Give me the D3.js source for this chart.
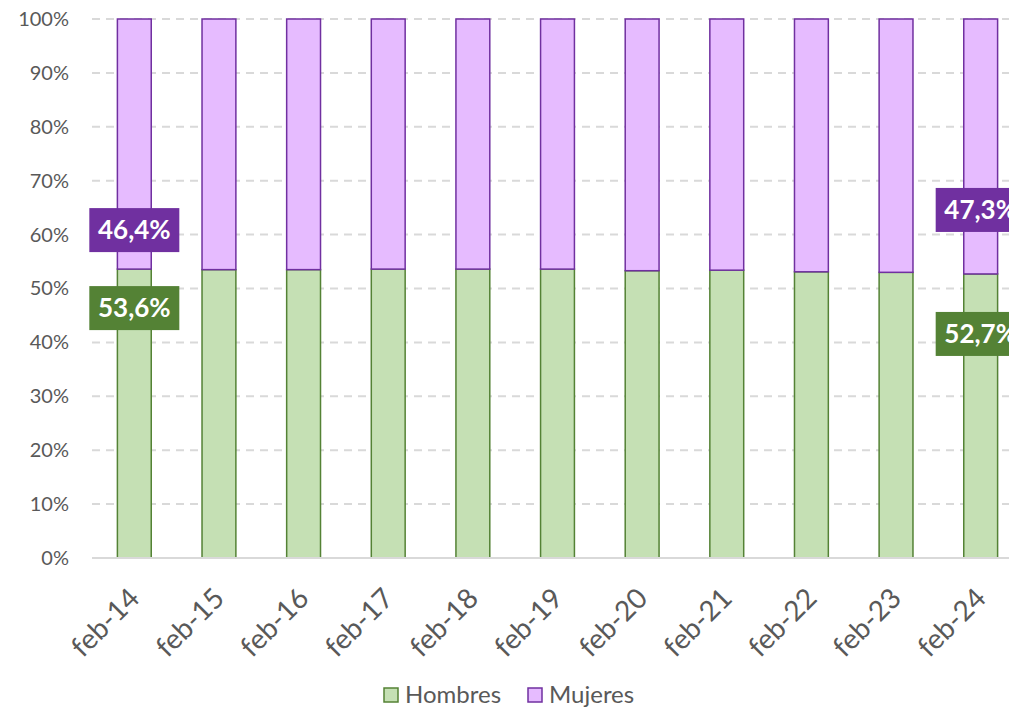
<!DOCTYPE html>
<html>
<head>
<meta charset="utf-8">
<script src="https://cdn.jsdelivr.net/npm/d3@7"></script>
<style>
  body { margin: 0; background: #fff; }
  svg { display: block; font-family: Lato, "Open Sans", sans-serif; }
</style>
</head>
<body>
<div id="chart"></div>
<script>
// data
const months = ["feb-14", "feb-15", "feb-16", "feb-17", "feb-18", "feb-19", "feb-20", "feb-21", "feb-22", "feb-23", "feb-24"]
const hombres = [53.6, 53.5, 53.5, 53.6, 53.6, 53.6, 53.3, 53.4, 53.1, 53.0, 52.7]
const mujeres = [46.4, 46.5, 46.5, 46.4, 46.4, 46.4, 46.7, 46.6, 46.9, 47.0, 47.3]
const yTicks = [0, 10, 20, 30, 40, 50, 60, 70, 80, 90, 100]
const labelled = ["feb-14", "feb-24"]

const width = 1009, height = 708
const top_y = 19, bottom_y = 558, left_x = 92, right_x = 1023

const green = "#C5E0B4", greenDark = "#548235"
const purple = "#E6BBFF", purpleDark = "#7030A0"

// label offsets (px from the segment boundary), first / last bar
const labelOffset = { "feb-14": [-39, 39], "feb-24": [-64, 60] }

const svg = d3.select("#chart").append("svg")
    .attr("width", width)
    .attr("height", height)

const xScale = d3.scaleBand()
    .domain(months)
    .range([left_x, right_x])
    .paddingInner(0.6)
    .paddingOuter(0.3)

const yScale = d3.scaleLinear()
    .domain([0, 100])
    .range([bottom_y, top_y])

/* gridlines */
svg.append("g")
    .selectAll("line")
    .data(yTicks.filter(d => d > 0))
    .enter().append("line")
    .attr("x1", left_x)
    .attr("x2", width)
    .attr("y1", d => yScale(d))
    .attr("y2", d => yScale(d))
    .attr("stroke", "#D9D9D9")
    .attr("stroke-width", 2)
    .attr("stroke-dasharray", "8,6")

// y axis labels
const yAxis = d3.axisLeft(yScale)
    .tickValues(yTicks)
    .tickFormat(d => d + "%")
    .tickSize(0)
    .tickPadding(0)
const yg = svg.append("g")
    .attr("transform", `translate(69,0)`)
    .call(yAxis)
yg.select(".domain").remove()
yg.selectAll("text")
    .attr("fill", "#595959")
    .style("font-size", "20px")
    .style("font-family", "Lato, sans-serif")

/* stacked bars */
const rows = months.map((m, i) => ({ month: m, h: hombres[i], m_: mujeres[i] }))
const bw = xScale.bandwidth()

svg.append("g").selectAll("rect")
    .data(rows)
    .enter().append("rect")
    .attr("x", d => xScale(d.month))
    .attr("y", d => yScale(d.h))
    .attr("width", bw)
    .attr("height", d => yScale(0) - yScale(d.h))
    .attr("fill", green)
    .attr("stroke", greenDark)
    .attr("stroke-width", 1.5)

svg.append("g").selectAll("rect")
    .data(rows)
    .enter().append("rect")
    .attr("x", d => xScale(d.month))
    .attr("y", d => yScale(d.h + d.m_))
    .attr("width", bw)
    .attr("height", d => yScale(d.h) - yScale(d.h + d.m_))
    .attr("fill", purple)
    .attr("stroke", purpleDark)
    .attr("stroke-width", 1.5)

// baseline
svg.append("line")
    .attr("x1", left_x).attr("x2", width)
    .attr("y1", bottom_y).attr("y2", bottom_y)
    .attr("stroke", "#D9D9D9")
    .attr("stroke-width", 2)

// x axis labels rotated
const xAxis = d3.axisBottom(xScale).tickSize(0).tickPadding(0)
const xg = svg.append("g")
    .attr("transform", `translate(0,${bottom_y})`)
    .call(xAxis)
xg.select(".domain").remove()
xg.selectAll("text")
    .attr("fill", "#595959")
    .style("font-size", "28px")
    .style("font-family", "Lato, sans-serif")
    .attr("text-anchor", "end")
    .attr("dy", null)
    .attr("y", 0)
    .attr("transform", "translate(7,42) rotate(-45)")

/* data labels */
const fmt = v => d3.format(".1f")(v).replace(".", ",") + "%"
const lab = svg.append("g")
rows.filter(d => labelled.includes(d.month)).forEach(d => {
    const cx = xScale(d.month) + bw / 2
    const yb = yScale(d.h)
    const off = labelOffset[d.month]
    const items = [
        { text: fmt(d.m_), cy: yb + off[0], fill: purpleDark },
        { text: fmt(d.h), cy: yb + off[1], fill: greenDark }
    ]
    items.forEach(it => {
        lab.append("rect")
            .attr("x", cx - 45)
            .attr("y", it.cy - 22)
            .attr("width", 90)
            .attr("height", 44)
            .attr("fill", it.fill)
        lab.append("text")
            .attr("x", cx)
            .attr("y", it.cy)
            .attr("dy", "0.36em")
            .attr("text-anchor", "middle")
            .attr("fill", "#fff")
            .style("font-size", "26px")
            .style("font-weight", "bold")
            .text(it.text)
    })
})

/* legend */
const legend = svg.append("g").attr("transform", "translate(0,695)")
const legendItems = [
    { name: "Hombres", fill: green, stroke: greenDark, x: 384 },
    { name: "Mujeres", fill: purple, stroke: purpleDark, x: 528 }
]
legendItems.forEach(it => {
    legend.append("rect")
        .attr("x", it.x)
        .attr("y", -7)
        .attr("width", 14)
        .attr("height", 14)
        .attr("fill", it.fill)
        .attr("stroke", it.stroke)
        .attr("stroke-width", 1.5)
    legend.append("text")
        .attr("x", it.x + 21)
        .attr("y", 0)
        .attr("dy", "0.35em")
        .attr("fill", "#595959")
        .style("font-size", "24px")
        .text(it.name)
})
</script>
</body>
</html>
